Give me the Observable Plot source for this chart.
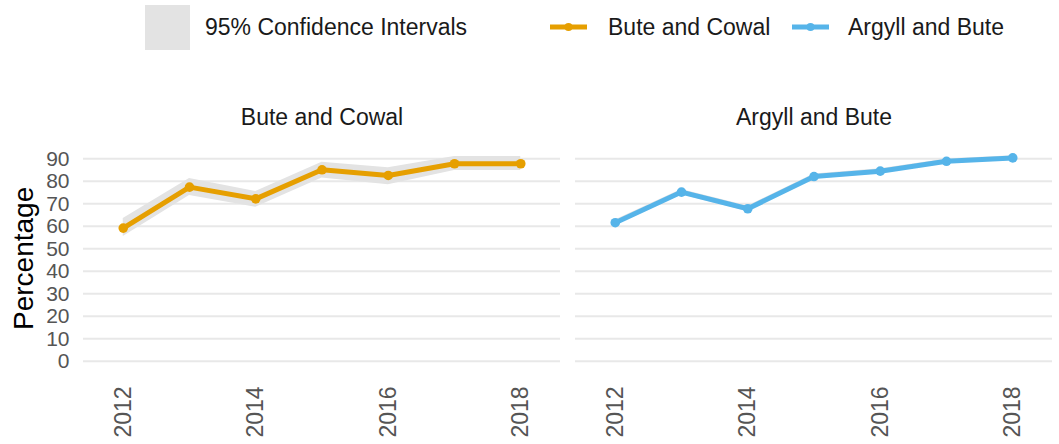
<!DOCTYPE html>
<html>
<head>
<meta charset="utf-8">
<script src="https://cdn.jsdelivr.net/npm/d3@7"></script>
<script src="https://cdn.jsdelivr.net/npm/@observablehq/plot@0.6"></script>
<style>
  html, body { margin: 0; padding: 0; background: #fff; }
  #wrap { position: relative; width: 1059px; height: 444px; font-family: "Liberation Sans", Arial, sans-serif; }
  #legend { position: absolute; left: 0; top: 0; width: 1059px; height: 55px; }
  .lg { position: absolute; font-size: 23px; color: #1a1a1a; line-height: 1; }
</style>
</head>
<body>
<div id="wrap">
  <div id="chart"></div>
  <div id="legend"></div>
</div>
<script>
const years = [2012, 2013, 2014, 2015, 2016, 2017, 2018];
const regions = ["Bute and Cowal", "Argyll and Bute"];
const colors = ["#E69F00", "#56B4E9"];
const buteCowal     = [59.2, 77.4, 72.2, 85.1, 82.6, 87.8, 87.8];
const buteCowalLow  = [55.5, 73.7, 68.5, 81.5, 78.5, 84.8, 84.8];
const buteCowalHigh = [63.5, 81.2, 75.5, 88.5, 86.0, 91.0, 91.0];
const argyllBute     = [61.6, 75.2, 67.8, 82.1, 84.5, 88.9, 90.4];
const argyllButeLow  = [60.4, 74.0, 66.6, 81.0, 83.4, 87.9, 89.5];
const argyllButeHigh = [62.8, 76.4, 69.0, 83.2, 85.6, 89.9, 91.3];
const xTicks = [2012, 2014, 2016, 2018];
const yTicks = [0, 10, 20, 30, 40, 50, 60, 70, 80, 90];
const yLabel = "Percentage";
const ciLabel = "95% Confidence Intervals";

const series = [
  {region: regions[0], v: buteCowal, lo: buteCowalLow, hi: buteCowalHigh},
  {region: regions[1], v: argyllBute, lo: argyllButeLow, hi: argyllButeHigh}
];
const data = series.flatMap(s => years.map((year, i) => ({
  region: s.region, year, value: s.v[i], low: s.lo[i], high: s.hi[i]
})));

const chart = Plot.plot({
  width: 1059,
  height: 444,
  marginLeft: 82.7,
  marginRight: 6,
  marginTop: 144.8,
  marginBottom: 73.1,
  style: {fontFamily: "Liberation Sans, Arial, sans-serif", background: "transparent"},
  fx: {domain: regions, padding: 0.031, axis: null},
  x: {domain: [2011.4, 2018.6]},
  y: {domain: [-4.5, 96]},
  color: {domain: regions, range: colors},
  marks: [
    Plot.gridY(yTicks, {stroke: "#e8e8e8", strokeOpacity: 1, strokeWidth: 2}),
    Plot.axisY(yTicks, {tickSize: 0, tickPadding: 14, fontSize: 21, fill: "#555", label: null}),
    Plot.axisX(xTicks, {tickSize: 0, tickPadding: 15, tickRotate: -90, fontSize: 23, fill: "#555", tickFormat: d => String(d), label: null}),
    Plot.areaY(data, {fx: "region", x: "year", y1: "low", y2: "high", fill: "#e3e3e3", fillOpacity: 1}),
    Plot.line(data, {fx: "region", x: "year", y: "value", stroke: "region", strokeWidth: 5}),
    Plot.dot(data, {fx: "region", x: "year", y: "value", fill: "region", r: 4.8}),
    Plot.text(regions, {fx: d => d, text: d => d, frameAnchor: "top", lineAnchor: "middle", dy: -27.6, fontSize: 23, fill: "#1a1a1a"}),
    Plot.text([yLabel], {fx: () => regions[0], text: d => d, frameAnchor: "left", textAnchor: "middle", lineAnchor: "middle", dx: -59, rotate: -90, fontSize: 28, fill: "#000"})
  ]
});
document.getElementById("chart").appendChild(chart);

// Legend
const lg = document.getElementById("legend");
function add(html, left, top) {
  const el = document.createElement("div");
  el.className = "lg";
  el.style.left = left + "px";
  el.style.top = top + "px";
  el.innerHTML = html;
  lg.appendChild(el);
  return el;
}
add(`<div style="width:45px;height:45px;background:#e3e3e3"></div>`, 145, 4.5);
add(ciLabel, 205, 16);
const keyX = [550, 792];
const textX = [608, 848];
regions.forEach((r, i) => {
  add(`<svg width="37" height="14" style="display:block"><line x1="0" x2="37" y1="7" y2="7" stroke="${colors[i]}" stroke-width="5"/><circle cx="18.5" cy="7" r="4" fill="${colors[i]}"/></svg>`, keyX[i], 20);
  add(r, textX[i], 16);
});
</script>
</body>
</html>
